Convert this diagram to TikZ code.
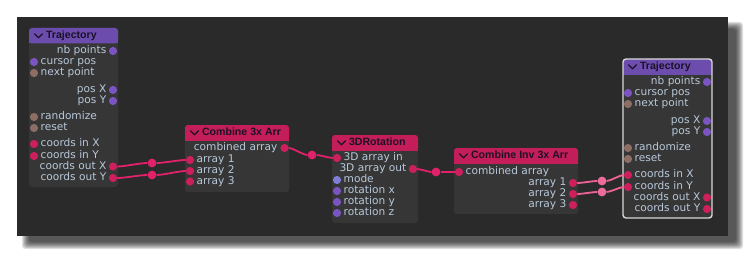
\documentclass[tikz,border=0pt]{standalone}
\usepackage{fontspec}
\setmainfont{DejaVu Sans}
\newfontfamily\hdrfont{Liberation Sans}
\definecolor{panelbg}{HTML}{2A2A2A}
\definecolor{bodycol}{HTML}{363636}
\definecolor{hdrpurple}{HTML}{6C4DAE}
\definecolor{hdrred}{HTML}{C41E5A}
\definecolor{hdrtxt}{HTML}{1C1226}
\definecolor{txtcol}{HTML}{B8C8DA}
\definecolor{cpurple}{HTML}{7A55C2}
\definecolor{cbrown}{HTML}{8C6E64}
\definecolor{cred}{HTML}{CC1F5C}
\definecolor{clav}{HTML}{7F7ED6}
\definecolor{wirecol}{HTML}{E2216B}
\definecolor{wirepink}{HTML}{EE6396}
\definecolor{selborder}{HTML}{D8D8D8}
\tikzset{
  nodebox/.style={fill=bodycol, rounded corners=3pt, inner sep=0pt, draw=none},
  port/.style={circle, inner sep=0pt, minimum size=8.2pt, draw=none},
  rdot/.style={circle, inner sep=0pt, minimum size=8.8pt, draw=none, fill=wirecol},
  pdot/.style={rdot, fill=wirepink!95!white},
  wire/.style={draw=wirecol, line width=1.8pt},
  pwire/.style={draw=wirepink, line width=1.8pt},
  lbl/.style={text=txtcol, font=\fontsize{10.6}{11}\selectfont, inner sep=0pt, text height=7.6pt, text depth=2pt},
  inl/.style={lbl, anchor=west},
  outl/.style={lbl, anchor=east},
  title/.style={font=\hdrfont\bfseries\fontsize{10.6}{12}\selectfont, text=hdrtxt, anchor=west, inner sep=0pt, text height=7.6pt, text depth=2pt},
}
\newcommand\chev[2]{\draw[hdrtxt, line width=1.3pt, line cap=round, line join=round] (#1,#2-2) -- ++(4,4) -- ++(4,-4);}
\newcommand\inrow[4]{\node[port, fill=#4] (#1-p) at (5,#3) {}; \node[inl] (#1) at (11.5,#3) {#2};}
\newcommand\outrow[6]{\node[port, fill=#4] (#1-p) at (#5,#3) {}; \node[outl] (#1) at (#6,#3) {#2};}
\newcommand\hdr[4]{% width, color, title, name
  \fill[#2, rounded corners=3pt] (0,0) rectangle (#1,15.5);
  \fill[#2] (0,8) rectangle (#1,15.5);
  \chev{5.5}{7.8}
  \node[title] (#4) at (16.8,7.8) {#3};}
\newcommand\trajnode[4]{% name, x, y, selected style
\begin{scope}[shift={(#2,#3)}]
  \node[nodebox, minimum width=89pt, minimum height=159pt] (#1) at (44.5,79.5) {};
  \hdr{89}{hdrpurple}{Trajectory}{#1-t}
  \outrow{#1-nb}{nb points}{23}{cpurple}{84}{77.5}
  \inrow{#1-cur}{cursor pos}{34}{cpurple}
  \inrow{#1-next}{next point}{45}{cbrown}
  \outrow{#1-px}{pos X}{62}{cpurple}{84}{77.5}
  \outrow{#1-py}{pos Y}{73}{cpurple}{84}{77.5}
  \inrow{#1-rand}{randomize}{89}{cbrown}
  \inrow{#1-reset}{reset}{100}{cbrown}
  \inrow{#1-cinx}{coords in X}{116}{cred}
  \inrow{#1-ciny}{coords in Y}{128}{cred}
  \outrow{#1-coutx}{coords out X}{138.5}{cred}{84}{77.5}
  \outrow{#1-couty}{coords out Y}{150}{cred}{84}{77.5}
  \draw[#4, rounded corners=3pt] (0,0) rectangle (89,159);
\end{scope}}
\begin{document}
\begin{tikzpicture}[x=1pt, y=-1pt]
\useasboundingbox (0,0) rectangle (746,254);
\fill[white] (0,0) rectangle (746,254);
% shadow
\foreach \r in {5,4,3,2,1,0,-1,-2}{
  \fill[black, opacity=0.12, rounded corners=3pt] (27-\r,27-\r) rectangle (738+\r,244+\r);
}
\fill[panelbg] (17,17) rectangle (728,236);

% Trajectory (left)
\trajnode{tA}{29}{28}{draw=none}

% Combine 3x Arr
\begin{scope}[shift={(185,125)}]
  \node[nodebox, minimum width=104pt, minimum height=67pt] (cmb) at (52,33.5) {};
  \hdr{104}{hdrred}{Combine 3x Arr}{cmb-t}
  \outrow{cmb-out}{combined array}{23}{cred}{99.5}{92.5}
  \inrow{cmb-a1}{array 1}{35}{cred}
  \inrow{cmb-a2}{array 2}{46}{cred}
  \inrow{cmb-a3}{array 3}{56.5}{cred}
\end{scope}

% 3DRotation
\begin{scope}[shift={(332,135)}]
  \node[nodebox, minimum width=86pt, minimum height=88pt] (rot) at (43,44) {};
  \hdr{86}{hdrred}{3DRotation}{rot-t}
  \inrow{rot-in}{3D array in}{23}{cred}
  \outrow{rot-out}{3D array out}{34}{cred}{81}{74.5}
  \inrow{rot-mode}{mode}{45}{clav}
  \inrow{rot-rx}{rotation x}{56}{cpurple}
  \inrow{rot-ry}{rotation y}{67}{cpurple}
  \inrow{rot-rz}{rotation z}{78}{cpurple}
\end{scope}

% Combine Inv 3x Arr
\begin{scope}[shift={(454,148)}]
  \node[nodebox, minimum width=124pt, minimum height=66pt] (inv) at (62,33) {};
  \hdr{124}{hdrred}{Combine Inv 3x Arr}{inv-t}
  \inrow{inv-in}{combined array}{24}{cred}
  \outrow{inv-a1}{array 1}{35}{cred}{119}{112.5}
  \outrow{inv-a2}{array 2}{46}{cred}{119}{112.5}
  \outrow{inv-a3}{array 3}{57}{cred}{119}{112.5}
\end{scope}

% Trajectory (right, selected)
\trajnode{tB}{623}{59}{draw=selborder, line width=1.4pt}

% reroute dots
\node[rdot] (d1) at (152,163) {};
\node[rdot] (d2) at (152,175) {};
\node[rdot] (d3) at (312,155) {};
\node[rdot] (d4) at (436,172) {};
\node[pdot] (d5) at (602,181) {};
\node[pdot] (d6) at (602,192) {};

% wires
\draw[wire] (tA-coutx-p) to[out=0,in=180,looseness=0.6] (d1);
\draw[wire] (d1) to[out=0,in=180,looseness=0.6] (cmb-a1-p);
\draw[wire] (tA-couty-p) to[out=0,in=180,looseness=0.6] (d2);
\draw[wire] (d2) to[out=0,in=180,looseness=0.6] (cmb-a2-p);
\draw[wire] (cmb-out-p) to[out=0,in=180,looseness=0.5] (d3);
\draw[wire] (d3) to[out=0,in=180,looseness=0.5] (rot-in-p);
\draw[wire] (rot-out-p) to[out=0,in=180,looseness=0.5] (d4);
\draw[wire] (d4) to[out=0,in=180,looseness=0.5] (inv-in-p);
\draw[pwire] (inv-a1-p) to[out=0,in=180,looseness=0.6] (d5);
\draw[pwire] (d5) to[out=0,in=180,looseness=0.6] (tB-cinx-p);
\draw[pwire] (inv-a2-p) to[out=0,in=180,looseness=0.6] (d6);
\draw[pwire] (d6) to[out=0,in=180,looseness=0.6] (tB-ciny-p);
\end{tikzpicture}
\end{document}
